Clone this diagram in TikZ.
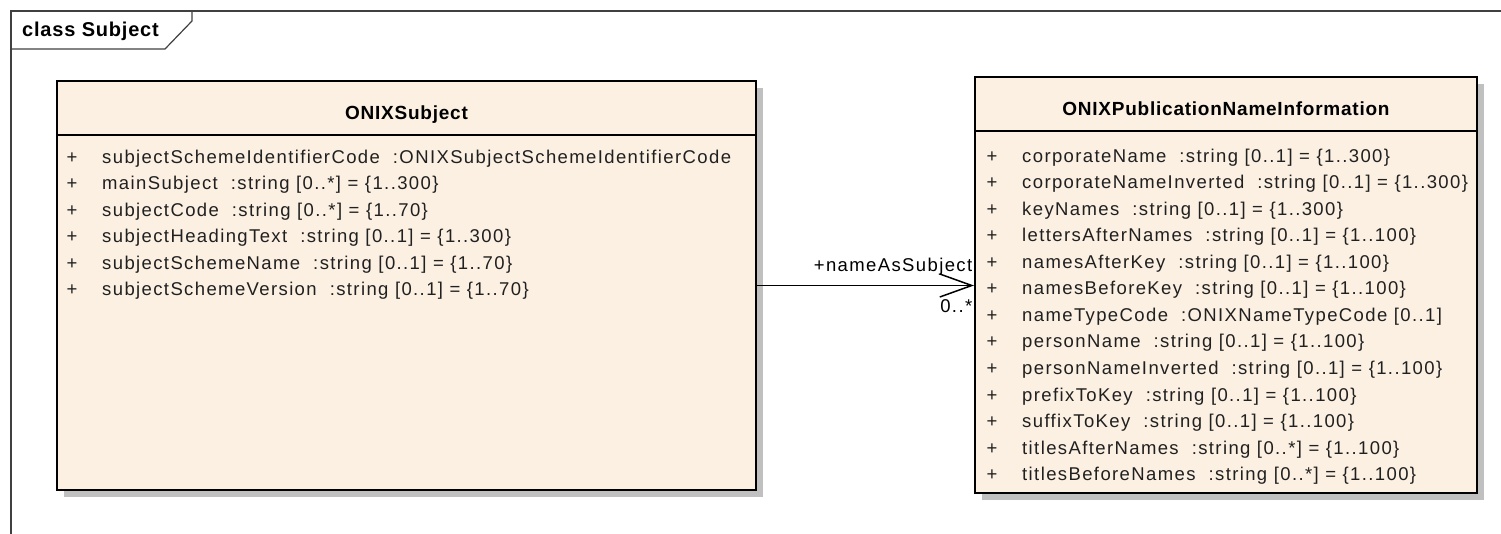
\documentclass[tikz,border=0pt]{standalone}
\usepackage{fontspec}
\usetikzlibrary{arrows.meta,shadows}
\newfontfamily\umlfont[LetterSpace=7.5]{Liberation Sans}
\newfontfamily\umltitlefont[LetterSpace=4]{Liberation Sans}
\definecolor{umlfill}{HTML}{FBF0E2}
\definecolor{umlshadow}{HTML}{C0C0C0}
\definecolor{umlframe}{HTML}{404040}
\definecolor{umltext}{HTML}{202020}
\tikzset{
  classbox/.style={draw=black, line width=2pt, fill=umlfill, anchor=north west,
    inner sep=0pt, drop shadow={shadow xshift=7pt, shadow yshift=-7pt, fill=umlshadow, opacity=1}},
  classtitle/.style={anchor=base, inner sep=0pt, font=\umltitlefont\bfseries\fontsize{19}{22}\selectfont},
  attr/.style={anchor=base west, inner sep=0pt, text=umltext, font=\umlfont\fontsize{18.5}{20}\selectfont},
  plus/.style={anchor=base, inner sep=0pt, text=umltext, font=\umlfont\fontsize{18.5}{20}\selectfont},
  rolelabel/.style={inner sep=1pt, font=\umlfont\fontsize{18.5}{20}\selectfont},
  assoc/.style={line width=1.5pt, -{Straight Barb[length=32pt, width=23pt, line width=1.5pt]}}
}
\begin{document}
\begin{tikzpicture}[x=1pt, y=-1pt]
\useasboundingbox (0,0) rectangle (1501,534);

% diagram frame
\draw[umlframe, line width=1.2pt] (1501,11) -- (11,11) -- (11,534);
\draw[umlframe, line width=1.2pt] (192,11) -- (192,21) -- (165,49) -- (11,49);
\node[classtitle, anchor=base west, font=\umltitlefont\bfseries\fontsize{20}{22}\selectfont] (frametitle) at (22,37) {class Subject};

% classes
\node[classbox, minimum width=699pt, minimum height=409pt] (subj) at (56,80) {};
\node[classbox, minimum width=502pt, minimum height=416pt] (pni) at (974,76) {};
\draw[line width=2pt] (subj.west |- 0,135) -- (subj.east |- 0,135);
\draw[line width=2pt] (pni.west |- 0,131) -- (pni.east |- 0,131);
\node[classtitle] (subjname) at (subj.north |- 0,120) {ONIXSubject};
\node[classtitle] (pniname) at (pni.north |- 0,116) {ONIXPublicationNameInformation};

\foreach \attr [count=\i] in {
  {subjectSchemeIdentifierCode~ :ONIXSubjectSchemeIdentifierCode},
  {mainSubject~ :string [0..*] = \{1..300\}},
  {subjectCode~ :string [0..*] = \{1..70\}},
  {subjectHeadingText~ :string [0..1] = \{1..300\}},
  {subjectSchemeName~ :string [0..1] = \{1..70\}},
  {subjectSchemeVersion~ :string [0..1] = \{1..70\}}}{
  \node[plus] (sp\i) at (72,{137+26.5*\i}) {+};
  \node[attr] (sa\i) at (102,{137+26.5*\i}) {\attr};
}

\foreach \attr [count=\i] in {
  {corporateName~ :string [0..1] = \{1..300\}},
  {corporateNameInverted~ :string [0..1] = \{1..300\}},
  {keyNames~ :string [0..1] = \{1..300\}},
  {lettersAfterNames~ :string [0..1] = \{1..100\}},
  {namesAfterKey~ :string [0..1] = \{1..100\}},
  {namesBeforeKey~ :string [0..1] = \{1..100\}},
  {nameTypeCode~ :ONIXNameTypeCode [0..1]},
  {personName~ :string [0..1] = \{1..100\}},
  {personNameInverted~ :string [0..1] = \{1..100\}},
  {prefixToKey~ :string [0..1] = \{1..100\}},
  {suffixToKey~ :string [0..1] = \{1..100\}},
  {titlesAfterNames~ :string [0..*] = \{1..100\}},
  {titlesBeforeNames~ :string [0..*] = \{1..100\}}}{
  \node[plus] (pp\i) at (992,{136+26.5*\i}) {+};
  \node[attr] (pa\i) at (1022,{136+26.5*\i}) {\attr};
}

% association
\draw[assoc] (subj.east) -- node[rolelabel, pos=1, anchor=south east, yshift=8pt] (role) {+nameAsSubject}
  node[rolelabel, pos=1, anchor=north east, yshift=-12pt] (mult) {0..*} (subj.east -| pni.west);
\end{tikzpicture}
\end{document}
